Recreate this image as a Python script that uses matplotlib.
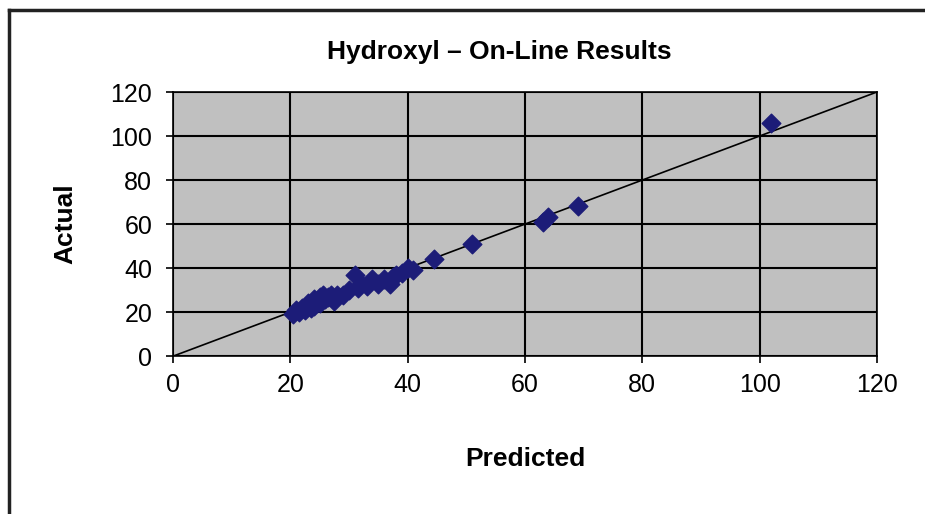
import matplotlib
matplotlib.use("Agg")
import matplotlib.pyplot as plt

# predicted vs actual hydroxyl values
predicted = [20.5, 21, 21.5, 22, 22.5, 23, 23.5, 24, 24, 24.5, 25, 25, 25.5, 26,
             26.5, 27, 27.5, 28, 29, 30, 31, 31.5, 32, 33, 34, 35, 36, 37,
             37.5, 38, 39, 40, 41, 44.5, 51, 63, 64, 69, 102]
actual = [19, 21, 20, 22, 21, 24, 22, 26, 23, 25, 27, 24, 28, 26,
          27, 28, 25, 28, 28, 30, 37, 31, 33, 32, 35, 33, 35, 33,
          36, 37, 38, 40, 39, 44, 51, 61, 63, 68, 106]
line_x = [0, 120]
line_y = [0, 120]
ticks = [0, 20, 40, 60, 80, 100, 120]

plt.rcParams['font.family'] = ['Liberation Sans', 'DejaVu Sans']

fig = plt.figure(figsize=(9.25, 5.14), dpi=100)
ax = fig.add_axes([0.187, 0.307, 0.761, 0.514])
ax.set_facecolor('#c0c0c0')

ax.plot(line_x, line_y, color='black', lw=1.2, zorder=2)
ax.scatter(predicted, actual, marker='D', s=90, color='#1c1c78',
           edgecolors='#1c1c78', zorder=3)

ax.set_xlim(0, 120)
ax.set_ylim(0, 120)
ax.set_xticks(ticks)
ax.set_yticks(ticks)
ax.grid(True, color='black', lw=1.5)
ax.set_axisbelow(True)
for s in ax.spines.values():
    s.set_linewidth(1.2)
ax.tick_params(labelsize=18, length=5, width=1.2, direction='out')
ax.tick_params(axis='x', pad=7)
ax.tick_params(axis='y', pad=10)

ax.set_xlabel('Predicted', fontsize=19, fontweight='bold', labelpad=36)
ax.set_ylabel('Actual', fontsize=19, fontweight='bold', labelpad=24)
fig.text(0.54, 0.898, 'Hydroxyl – On-Line Results', ha='center', va='center',
         fontsize=19, fontweight='bold')

# outer frame lines (top and left visible in the original)
fig.add_artist(plt.Line2D([0.01, 0.01], [0, 0.98], color='#222222', lw=2.5,
                          transform=fig.transFigure))
fig.add_artist(plt.Line2D([0.01, 1.0], [0.98, 0.98], color='#222222', lw=2.5,
                          transform=fig.transFigure))

fig.savefig('out.png', dpi=100)
